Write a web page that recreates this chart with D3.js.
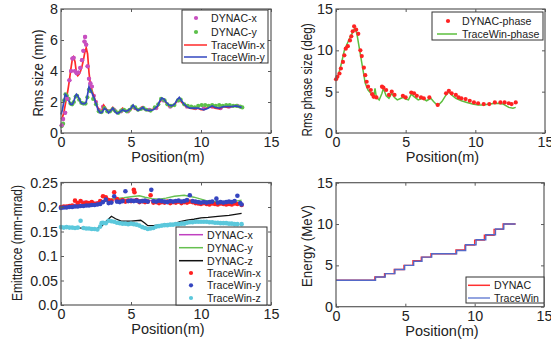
<!DOCTYPE html>
<html><head><meta charset="utf-8">
<script src="https://cdn.jsdelivr.net/npm/d3@7"></script>
<style>body{margin:0;background:#fff}svg{display:block}text{font-family:"Liberation Sans",Arial,Helvetica,sans-serif;fill:#222}</style>
</head><body><svg id="c" width="551" height="344"></svg>
<script>
// ---------- Panel 1: Rms size (mm) ----------
const rmsTraceX = [[0,0.9],[0.1,1.0],[0.2,1.3],[0.3,1.8],[0.4,2.3],[0.5,2.8],[0.6,3.4],[0.7,4.1],[0.8,4.7],[0.9,4.9],[1.0,4.6],[1.1,3.9],[1.2,3.7],[1.3,3.8],[1.4,4.0],[1.5,4.3],[1.6,4.7],[1.7,5.2],[1.8,5.5],[1.9,5.1],[2.0,3.9],[2.1,3.1],[2.2,2.8],[2.3,2.5],[2.45,2.1],[2.6,1.7],[2.75,1.35],[2.9,1.4],[3.05,1.8],[3.2,1.6],[3.4,1.35],[3.55,1.5],[3.7,1.65],[3.85,1.45],[4.0,1.3],[4.2,1.4],[4.4,1.6],[4.6,1.45],[4.8,1.4],[5.0,1.5],[5.15,1.75],[5.3,1.55],[5.5,1.45],[5.7,1.6],[5.85,1.7],[6.0,1.5],[6.3,1.45],[6.6,1.55],[6.9,1.7],[7.05,2.0],[7.2,2.2],[7.35,2.15],[7.5,1.95],[7.7,1.75],[7.9,1.7],[8.1,1.8],[8.3,2.1],[8.45,2.2],[8.6,2.0],[8.8,1.8],[9.0,1.7],[9.2,1.6],[9.5,1.55],[9.8,1.6],[10.0,1.5],[10.2,1.5],[10.5,1.65],[10.8,1.7],[11.0,1.6],[11.3,1.55],[11.6,1.7],[11.9,1.65],[12.2,1.7],[12.5,1.8],[12.7,1.7],[12.9,1.6]];
const rmsTraceY = [[0,1.2],[0.1,1.5],[0.2,2.0],[0.3,2.5],[0.4,2.4],[0.5,2.2],[0.6,2.0],[0.7,1.85],[0.8,1.85],[0.9,2.0],[1.0,2.3],[1.1,2.5],[1.2,2.4],[1.3,2.2],[1.4,2.0],[1.5,1.9],[1.6,1.9],[1.7,1.9],[1.8,2.0],[1.9,2.5],[2.0,3.0],[2.1,2.8],[2.2,2.6],[2.35,2.3],[2.5,1.9],[2.65,1.5],[2.8,1.3],[2.95,1.35],[3.1,1.6],[3.25,1.5],[3.4,1.3],[3.55,1.45],[3.7,1.6],[3.85,1.4],[4.0,1.25],[4.2,1.35],[4.4,1.5],[4.6,1.4],[4.8,1.45],[5.0,1.6],[5.15,1.8],[5.3,1.6],[5.5,1.45],[5.7,1.55],[5.85,1.65],[6.0,1.5],[6.3,1.45],[6.6,1.5],[6.9,1.75],[7.05,2.05],[7.2,2.25],[7.35,2.2],[7.5,2.0],[7.7,1.8],[7.9,1.75],[8.1,1.85],[8.3,2.15],[8.45,2.3],[8.6,2.1],[8.8,1.85],[9.0,1.7],[9.2,1.6],[9.5,1.6],[9.8,1.6],[10.0,1.55],[10.2,1.5],[10.5,1.6],[10.8,1.75],[11.0,1.65],[11.3,1.6],[11.6,1.7],[11.9,1.7],[12.2,1.7],[12.5,1.75],[12.7,1.7],[12.9,1.65]];
const rmsDynacX = [[0.05,0.5],[0.15,0.9],[0.3,1.3],[0.45,2.2],[0.6,3.4],[0.72,4.0],[0.82,4.8],[0.9,4.85],[1.0,4.0],[1.12,3.85],[1.25,3.9],[1.38,4.2],[1.5,4.7],[1.6,5.3],[1.68,5.9],[1.72,6.2],[1.8,5.7],[1.9,4.3],[2.0,3.5],[2.1,3.2],[2.2,3.0],[2.35,2.4],[2.5,2.0],[2.7,1.5],[3.0,1.7],[3.4,1.4],[3.8,1.5],[4.3,1.4],[4.8,1.4],[5.3,1.6],[5.8,1.6],[6.3,1.5],[6.8,1.6],[7.3,2.1],[7.8,1.7],[8.4,2.1],[9.0,1.7],[9.6,1.6],[10.2,1.6],[10.8,1.7],[11.4,1.6],[12.0,1.7],[12.6,1.75]];
const rmsDynacY = [[0.05,0.45],[0.15,0.6],[0.22,2.1],[0.32,2.5],[0.42,2.4],[0.55,2.2],[0.68,1.9],[0.8,1.85],[0.92,2.0],[1.05,2.35],[1.15,2.4],[1.3,2.15],[1.45,1.95],[1.6,1.9],[1.75,1.9],[1.88,2.3],[2.0,2.8],[2.12,2.7],[2.3,2.2],[2.5,1.85],[2.7,1.4],[2.9,1.35],[3.1,1.6],[3.3,1.4],[3.5,1.4],[3.7,1.55],[3.9,1.4],[4.1,1.3],[4.3,1.45],[4.5,1.5],[4.7,1.4],[4.9,1.5],[5.1,1.7],[5.3,1.65],[5.5,1.5],[5.7,1.55],[5.9,1.6],[6.1,1.5],[6.4,1.45],[6.7,1.65],[6.95,1.85],[7.15,2.2],[7.4,2.1],[7.6,1.85],[7.85,1.75],[8.1,1.8],[8.35,2.1],[8.55,2.15],[8.8,1.85],[9.05,1.75],[9.3,1.7],[9.55,1.65],[9.8,1.75],[10.05,1.8],[10.3,1.8],[10.55,1.75],[10.8,1.8],[11.05,1.75],[11.3,1.8],[11.55,1.75],[11.8,1.8],[12.05,1.8],[12.3,1.75],[12.55,1.75],[12.8,1.7],[12.95,1.65]];
const rmsTicks = [0,2,4,6,8];

// ---------- Panel 2: Rms phase size (deg) ----------
const phaseTrace = [[0,6.4],[0.2,7.2],[0.4,8.5],[0.6,10],[0.8,10.8],[1.0,11.5],[1.2,12.2],[1.35,12.7],[1.5,12],[1.7,10],[1.9,8],[2.1,6],[2.3,5.2],[2.5,4.8],[2.7,4.3],[2.8,5.4],[2.9,4.3],[3.1,4.0],[3.3,4.8],[3.4,5.4],[3.6,4.5],[3.8,4.2],[4.0,4.8],[4.2,4.3],[4.4,4.0],[4.8,4.3],[5.0,4.1],[5.2,4.0],[5.4,4.7],[5.6,4.4],[5.9,4.0],[6.2,4.2],[6.5,3.9],[6.8,4.2],[7.0,3.8],[7.3,3.3],[7.6,3.8],[7.9,4.6],[8.1,5.0],[8.3,4.6],[8.6,4.2],[9.0,3.9],[9.4,3.7],[9.8,3.5],[10.2,3.4],[10.6,3.4],[11,3.5],[11.5,3.6],[12,3.5],[12.4,3.1],[12.7,3.0],[12.9,3.1]];
const phaseDynac = [[0,6.5],[0.1,6.8],[0.25,7.2],[0.35,7.8],[0.5,8.6],[0.6,9.4],[0.7,10.2],[0.85,10.5],[1.0,11.2],[1.1,11.7],[1.2,12.3],[1.3,12.9],[1.45,12.5],[1.6,12.0],[1.75,10],[1.85,9.3],[2.0,7.9],[2.1,7.0],[2.2,6.2],[2.3,5.6],[2.5,5.2],[2.6,4.7],[2.7,4.4],[2.9,4.3],[3.3,5.6],[3.4,5.5],[3.6,5.2],[3.8,4.6],[4.0,5.0],[4.2,4.6],[4.8,4.5],[5.0,4.3],[5.4,4.9],[5.6,4.8],[5.8,4.5],[6.1,4.3],[6.3,4.2],[6.7,4.3],[7.3,3.4],[7.9,4.8],[8.1,5.1],[8.3,4.8],[8.6,4.6],[8.8,4.3],[9.0,4.2],[9.3,4.1],[9.6,3.9],[9.9,3.7],[10.2,3.6],[10.6,3.5],[11.0,3.5],[11.4,3.7],[11.8,3.7],[12.1,3.7],[12.4,3.6],[12.6,3.5],[12.9,3.7]];
const phaseTicks = [0,5,10,15];

// ---------- Panel 3: Emittance (mm-mrad) ----------
const emDynacX = [[0,0.201],[1,0.205],[1.5,0.212],[2,0.211],[2.5,0.210],[3.0,0.212],[3.6,0.214],[4.5,0.215],[5.2,0.216],[6.0,0.214],[7.0,0.212],[8.0,0.211],[9.0,0.211],[10.0,0.208],[11.0,0.207],[12.0,0.207],[12.9,0.206]];
const emDynacY = [[0,0.202],[1,0.203],[2,0.205],[2.5,0.207],[2.9,0.209],[3.6,0.216],[4.5,0.219],[5.0,0.221],[5.6,0.223],[6.0,0.220],[6.5,0.217],[7.0,0.216],[7.5,0.218],[8.1,0.222],[8.8,0.224],[9.5,0.220],[10.0,0.216],[10.5,0.212],[11.2,0.211],[12.0,0.211],[12.5,0.212],[12.9,0.214]];
const emDynacZ = [[0,0.159],[1,0.158],[2,0.156],[2.5,0.155],[2.9,0.161],[3.2,0.170],[3.6,0.181],[3.9,0.176],[4.3,0.171],[5.0,0.171],[5.7,0.173],[6.0,0.167],[6.2,0.162],[6.6,0.162],[6.9,0.163],[7.5,0.165],[8.1,0.166],[8.5,0.170],[9.0,0.173],[9.5,0.175],[10.0,0.178],[10.5,0.179],[11.2,0.181],[12.0,0.183],[12.9,0.187]];
const emTraceX = [[0,0.200],[0.2,0.201],[0.4,0.201],[0.6,0.202],[0.8,0.203],[1.0,0.213],[1.2,0.208],[1.4,0.212],[1.6,0.207],[1.8,0.209],[2.0,0.208],[2.2,0.210],[2.4,0.206],[2.6,0.207],[2.8,0.212],[3.0,0.222],[3.2,0.220],[3.4,0.214],[3.6,0.213],[3.8,0.230],[4.0,0.216],[4.2,0.212],[4.4,0.214],[4.6,0.211],[4.8,0.213],[5.0,0.212],[5.2,0.235],[5.25,0.230],[5.4,0.214],[5.6,0.210],[5.8,0.212],[6.0,0.210],[6.2,0.211],[6.4,0.224],[6.6,0.209],[6.8,0.210],[7.0,0.208],[7.2,0.210],[7.4,0.209],[7.6,0.211],[7.8,0.208],[8.0,0.210],[8.2,0.209],[8.4,0.211],[8.6,0.208],[8.8,0.210],[9.0,0.209],[9.2,0.211],[9.4,0.210],[9.6,0.208],[9.8,0.207],[10.0,0.206],[10.2,0.208],[10.4,0.206],[10.6,0.205],[10.8,0.207],[11.0,0.206],[11.2,0.205],[11.4,0.207],[11.6,0.206],[11.8,0.205],[12.0,0.206],[12.2,0.205],[12.4,0.207],[12.6,0.206],[12.9,0.204]];
const emTraceY = [[0,0.198],[0.2,0.199],[0.4,0.199],[0.6,0.200],[0.8,0.200],[1.0,0.201],[1.2,0.201],[1.4,0.202],[1.6,0.202],[1.8,0.203],[2.0,0.203],[2.2,0.204],[2.4,0.204],[2.6,0.205],[2.8,0.206],[3.0,0.210],[3.2,0.215],[3.4,0.208],[3.6,0.209],[3.8,0.222],[4.0,0.211],[4.2,0.210],[4.4,0.212],[4.6,0.232],[4.8,0.212],[5.0,0.213],[5.2,0.212],[5.4,0.213],[5.6,0.211],[5.8,0.212],[6.0,0.213],[6.2,0.211],[6.45,0.235],[6.6,0.212],[6.8,0.211],[7.0,0.213],[7.2,0.212],[7.4,0.211],[7.6,0.210],[7.8,0.212],[8.0,0.211],[8.2,0.212],[8.4,0.213],[8.6,0.211],[8.8,0.212],[9.0,0.214],[9.2,0.224],[9.4,0.212],[9.6,0.211],[9.8,0.210],[10.0,0.209],[10.2,0.210],[10.4,0.209],[10.6,0.210],[10.8,0.211],[11.1,0.217],[11.2,0.209],[11.4,0.210],[11.6,0.209],[11.8,0.210],[12.0,0.211],[12.2,0.210],[12.4,0.212],[12.6,0.223],[12.8,0.208],[12.9,0.205]];
const emTraceZ = [[0,0.159],[0.2,0.158],[0.4,0.159],[0.6,0.158],[0.8,0.158],[1.0,0.157],[1.2,0.158],[1.4,0.172],[1.6,0.157],[1.8,0.156],[2.0,0.156],[2.2,0.155],[2.4,0.155],[2.6,0.154],[2.8,0.160],[2.9,0.167],[3.0,0.168],[3.2,0.167],[3.4,0.172],[3.6,0.171],[3.8,0.170],[4.0,0.168],[4.2,0.167],[4.4,0.166],[4.6,0.166],[4.8,0.165],[5.0,0.166],[5.2,0.165],[5.4,0.164],[5.6,0.162],[5.8,0.159],[6.0,0.157],[6.2,0.155],[6.4,0.156],[6.6,0.157],[6.8,0.160],[7.0,0.161],[7.2,0.162],[7.4,0.163],[7.6,0.163],[7.8,0.164],[8.0,0.164],[8.2,0.165],[8.4,0.165],[8.6,0.166],[8.8,0.166],[9.0,0.168],[9.2,0.169],[9.4,0.169],[9.6,0.170],[9.8,0.170],[10.0,0.170],[10.2,0.170],[10.4,0.170],[10.6,0.169],[10.8,0.169],[11.0,0.168],[11.2,0.168],[11.4,0.167],[11.6,0.167],[11.8,0.167],[12.0,0.166],[12.2,0.166],[12.4,0.165],[12.6,0.165],[12.9,0.165]];
const emTicks = [0,0.05,0.1,0.15,0.2,0.25];
const emTickLabels = ["0.0","0.05","0.1","0.15","0.2","0.25"];

// ---------- Panel 4: Energy (MeV) ----------
const enDynacPos = [0,2.8,3.5,4.2,4.9,5.55,6.15,6.85,8.65,9.3,10.0,10.7,11.4,12.05,12.95];
const enDynacVal = [3.2,3.6,4.0,4.5,5.0,5.55,6.0,6.4,6.85,7.45,8.05,8.65,9.35,10.0,10.0];
const enTracePos = [0,2.85,3.55,4.25,4.95,5.6,6.2,6.9,8.7,9.35,10.1,10.8,11.5,12.1,12.95];
const enTraceVal = [3.2,3.6,4.0,4.5,5.0,5.5,6.0,6.4,6.8,7.5,8.1,8.7,9.4,10.0,10.0];
const enTicks = [0,5,10,15];
const xTicks = [0,5,10,15];

const svg = d3.select("#c");
const FONT = "Liberation Sans, Arial, Helvetica, sans-serif";

function panel(o) {
  const x = d3.scaleLinear().domain([0,15]).range([o.x0,o.x1]);
  const y = d3.scaleLinear().domain(o.ydom).range([o.y1,o.y0]);
  const g = svg.append("g");
  const line = d3.line().x(d=>x(d[0])).y(d=>y(d[1]));
  o.draw(g, x, y, line);
  g.append("rect").attr("x",o.x0).attr("y",o.y0).attr("width",o.x1-o.x0).attr("height",o.y1-o.y0)
    .attr("fill","none").attr("stroke","#5a5a5a").attr("stroke-width",1.2);
  const axB = d3.axisBottom(x).tickValues(xTicks).tickSize(-3).tickPadding(4).tickFormat(d3.format("d"));
  const axT = d3.axisTop(x).tickValues(xTicks).tickSize(-3).tickFormat("");
  const axL = d3.axisLeft(y).tickValues(o.yticks).tickSize(-3).tickPadding(3).tickFormat((d,i)=>o.ylabels ? o.ylabels[i] : d);
  const axR = d3.axisRight(y).tickValues(o.yticks).tickSize(-3).tickFormat("");
  [[axB,`translate(0,${o.y1})`],[axT,`translate(0,${o.y0})`],[axL,`translate(${o.x0},0)`],[axR,`translate(${o.x1},0)`]].forEach(([a,t])=>{
    const ag = g.append("g").attr("transform",t).call(a);
    ag.select(".domain").remove();
    ag.selectAll("line").attr("stroke","#5a5a5a");
    ag.selectAll("text").attr("font-family",FONT).attr("font-size",14.3).attr("fill","#2a2a2a");
  });
  g.append("text").attr("x",(o.x0+o.x1)/2+2).attr("y",o.xlabY).attr("text-anchor","middle")
    .attr("font-size",14.5).text("Position(m)");
  g.append("text").attr("transform",`translate(${o.ylx},${o.yly}) rotate(-90)`).attr("text-anchor","middle")
    .attr("dy","0.35em").attr("font-size",14).attr("textLength",o.ylen).attr("lengthAdjust","spacingAndGlyphs").text(o.ylab);
  return {x,y,g};
}

function legend(g, box, items) {
  g.append("rect").attr("x",box[0]).attr("y",box[1]).attr("width",box[2]-box[0]).attr("height",box[3]-box[1])
    .attr("fill","#fff").attr("stroke","#333").attr("stroke-width",1);
  items.forEach(it=>{
    if (it.type==="line") g.append("line").attr("x1",it.l0).attr("x2",it.l1).attr("y1",it.y).attr("y2",it.y).attr("stroke",it.color).attr("stroke-width",1.5);
    else g.append("circle").attr("cx",it.cx).attr("cy",it.y).attr("r",2.1).attr("fill",it.color);
    g.append("text").attr("x",it.tx).attr("y",it.y).attr("dy","0.36em").attr("font-size",10.6).attr("fill","#222").text(it.label);
  });
}

function dots(g, x, y, data, color, r) {
  g.append("g").selectAll("circle").data(data).join("circle")
    .attr("cx",d=>x(d[0])).attr("cy",d=>y(d[1])).attr("r",r).attr("fill",color);
}

// Panel 1
const p1 = panel({x0:61,x1:271,y0:9,y1:133,ydom:[0,8],yticks:rmsTicks,xlabY:162,ylab:"Rms size (mm)",ylx:38,yly:73,ylen:87,
  draw:(g,x,y,line)=>{
    dots(g,x,y,rmsDynacX,"#c84fc0",2.1);
    g.append("path").attr("d",line(rmsTraceX)).attr("fill","none").attr("stroke","#ff2a2a").attr("stroke-width",1.7);
    dots(g,x,y,rmsDynacY,"#5cc04a",2.1);
    g.append("path").attr("d",line(rmsTraceY)).attr("fill","none").attr("stroke","#3347c0").attr("stroke-width",1.7);
    dots(g,x,y,rmsDynacX.filter(d=>d[0]<2.3),"#c84fc0",2.1);
  }});
legend(p1.g,[182,10,268,63],[
  {type:"dot",cx:196,y:18,tx:211,color:"#c84fc0",label:"DYNAC-x"},
  {type:"dot",cx:196,y:32,tx:211,color:"#5cc04a",label:"DYNAC-y"},
  {type:"line",l0:184,l1:207,y:45,tx:211,color:"#ff2a2a",label:"TraceWin-x"},
  {type:"line",l0:184,l1:207,y:57,tx:211,color:"#3347c0",label:"TraceWin-y"}]);

// Panel 2
const p2 = panel({x0:336,x1:545,y0:9,y1:133,ydom:[0,15],yticks:phaseTicks,xlabY:162,ylab:"Rms phase size (deg)",ylx:307,yly:80,ylen:113,
  draw:(g,x,y,line)=>{
    g.append("path").attr("d",line(phaseTrace)).attr("fill","none").attr("stroke","#5cbf3e").attr("stroke-width",1.5);
    dots(g,x,y,phaseDynac,"#ff2222",2.1);
  }});
legend(p2.g,[432,12,543,40],[
  {type:"dot",cx:448,y:21,tx:462,color:"#ff2222",label:"DYNAC-phase"},
  {type:"line",l0:437,l1:457,y:34,tx:462,color:"#5cbf3e",label:"TraceWin-phase"}]);

// Panel 3
const p3 = panel({x0:61,x1:271,y0:182.5,y1:305,ydom:[0,0.25],yticks:emTicks,ylabels:emTickLabels,xlabY:334,ylab:"Emittance (mm-mrad)",ylx:17,yly:243,ylen:116,
  draw:(g,x,y,line)=>{
    g.append("path").attr("d",line(emDynacX)).attr("fill","none").attr("stroke","#c040c0").attr("stroke-width",1.4);
    g.append("path").attr("d",line(emDynacY)).attr("fill","none").attr("stroke","#66c050").attr("stroke-width",1.4);
    dots(g,x,y,emTraceX,"#ff2020",2.3);
    dots(g,x,y,emTraceY,"#3545c0",2.3);
    g.append("path").attr("d",line(emDynacZ)).attr("fill","none").attr("stroke","#111").attr("stroke-width",1.3);
    dots(g,x,y,emTraceZ,"#5bc8dc",2.3);
  }});
legend(p3.g,[176,227,267,305],[
  {type:"line",l0:179,l1:203,y:234.7,tx:207,color:"#c040c0",label:"DYNAC-x"},
  {type:"line",l0:179,l1:203,y:247.7,tx:207,color:"#66c050",label:"DYNAC-y"},
  {type:"line",l0:179,l1:203,y:260.7,tx:207,color:"#111",label:"DYNAC-z"},
  {type:"dot",cx:191,y:273,tx:207,color:"#ff2020",label:"TraceWin-x"},
  {type:"dot",cx:191,y:285.3,tx:207,color:"#3545c0",label:"TraceWin-y"},
  {type:"dot",cx:191,y:298,tx:207,color:"#5bc8dc",label:"TraceWin-z"}]);

// Panel 4
const p4 = panel({x0:336,x1:544,y0:182.7,y1:306.7,ydom:[0,15],yticks:enTicks,xlabY:336,ylab:"Energy (MeV)",ylx:307,yly:246,ylen:82,
  draw:(g,x,y,line)=>{
    const step = d3.line().x(d=>x(d[0])).y(d=>y(d[1])).curve(d3.curveStepAfter);
    g.append("path").attr("d",step(enDynacPos.map((p,i)=>[p,enDynacVal[i]]))).attr("fill","none").attr("stroke","#ff3030").attr("stroke-width",1.4);
    g.append("path").attr("d",step(enTracePos.map((p,i)=>[p,enTraceVal[i]]))).attr("fill","none").attr("stroke","#5468c8").attr("stroke-width",1.4);
  }});
legend(p4.g,[466,277,544,303],[
  {type:"line",l0:468,l1:490,y:285.3,tx:494,color:"#ff3030",label:"DYNAC"},
  {type:"line",l0:468,l1:490,y:298,tx:494,color:"#6f86d6",label:"TraceWin"}]);
</script></body></html>
